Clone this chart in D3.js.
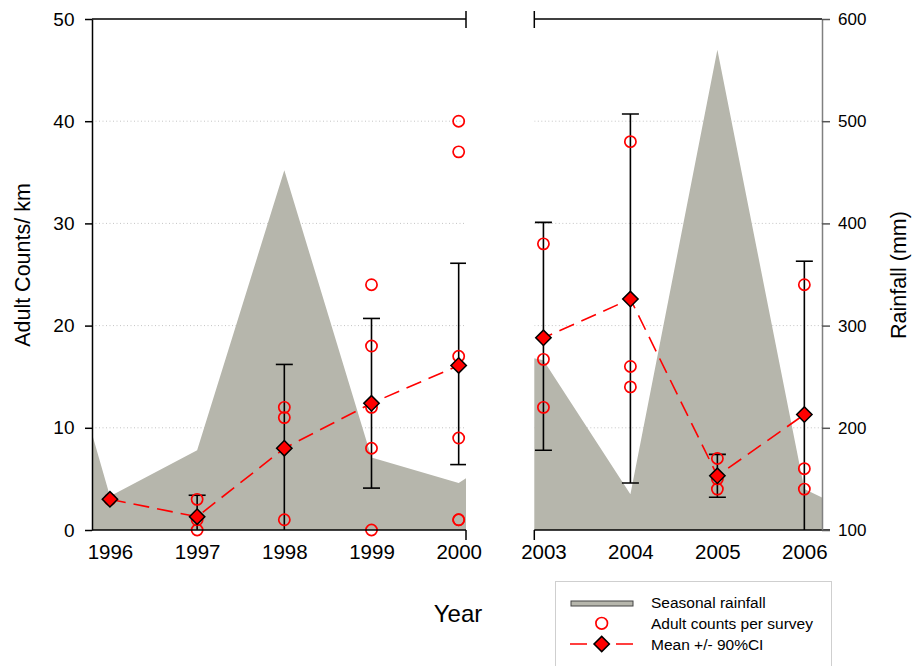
<!DOCTYPE html>
<html>
<head>
<meta charset="utf-8">
<script src="https://cdn.jsdelivr.net/npm/d3@7"></script>
<style>
  body { margin: 0; background: #fff; }
  svg { display: block; }
  text { font-family: Arial, "Liberation Sans", sans-serif; fill: #000; }
</style>
</head>
<body>
<svg id="chart" width="912" height="666"></svg>
<script>
// Survey years and mean adult counts per km with 90% confidence limits
const years      = [1996, 1997, 1998, 1999, 2000, 2003, 2004, 2005, 2006];
const meanCounts = [3.0, 1.3, 8.0, 12.4, 16.1, 18.8, 22.6, 5.3, 11.3];
const ciLow      = [null, -0.8, -0.2, 4.1, 6.4, 7.8, 4.6, 3.2, -3.7];
const ciHigh     = [null, 3.4, 16.2, 20.7, 26.1, 30.1, 40.7, 7.4, 26.3];

// Individual survey counts, one list per survey year
const surveyCounts = [
  [3],
  [3, 1, 0],
  [12, 11, 1],
  [24, 18, 12, 8, 0],
  [40, 37, 17, 9, 1, 1],
  [28, 16.7, 12],
  [38, 16, 14],
  [7, 5, 4],
  [24, 6, 4]
];

// Seasonal rainfall (mm)
const rainYears = [1995, 1996, 1997, 1998, 1999, 2000, 2001, 2002, 2003, 2004, 2005, 2006, 2007];
const rainfall  = [430, 133, 178, 452, 171, 146, 200, 285, 266, 135, 570, 140, 100];

// Axis ticks
const countTicks = [0, 10, 20, 30, 40, 50];
const rainTicks  = [100, 200, 300, 400, 500, 600];
const earlyYears = [1996, 1997, 1998, 1999, 2000];
const lateYears  = [2003, 2004, 2005, 2006];

const svg = d3.select("#chart");
const plotTop = 19, plotBottom = 530;
const yCount = d3.scaleLinear().domain([0, 50]).range([plotBottom, plotTop]);
const yRain  = d3.scaleLinear().domain([100, 600]).range([plotBottom, plotTop]);

const panels = [
  { id: "early", domain: [1995.794, 2000.084], range: [92, 466], ticks: earlyYears },
  { id: "late",  domain: [2002.895, 2006.203], range: [534.3, 822], ticks: lateYears }
];

const rainData  = rainYears.map((y, i) => ({ year: y, value: rainfall[i] }));
const meanData  = years.map((y, i) => ({ year: y, mean: meanCounts[i], lo: ciLow[i], hi: ciHigh[i] }));
const pointData = years.flatMap((y, i) => surveyCounts[i].map(v => ({ year: y, value: v })));

const defs = svg.append("defs");
const diamond = d3.symbol().type(d3.symbolSquare).size(118);

panels.forEach(p => {
  const x = d3.scaleLinear().domain(p.domain).range(p.range);
  const [x0, x1] = p.range;
  const inPanel = d => d.year >= p.domain[0] && d.year <= p.domain[1];

  defs.append("clipPath").attr("id", "clip-" + p.id)
    .append("rect").attr("x", x0).attr("y", plotTop)
    .attr("width", x1 - x0).attr("height", plotBottom - plotTop);

  const g = svg.append("g");
  const clipped = g.append("g").attr("clip-path", `url(#clip-${p.id})`);

  // dotted gridlines
  clipped.selectAll("line.grid").data([10, 20, 30, 40]).join("line")
    .attr("class", "grid")
    .attr("x1", x0).attr("x2", x1)
    .attr("y1", d => yCount(d)).attr("y2", d => yCount(d))
    .attr("stroke", "#c4c4c4").attr("stroke-width", 1)
    .attr("stroke-dasharray", "1,2.5");

  // rainfall area
  clipped.append("path").datum(rainData)
    .attr("fill", "#b6b6ac")
    .attr("d", d3.area().x(d => x(d.year)).y0(yRain(100)).y1(d => yRain(d.value)));

  // confidence interval bars
  const bars = meanData.filter(d => inPanel(d) && d.lo !== null);
  const eb = clipped.append("g").attr("stroke", "#000").attr("stroke-width", 1.6);
  eb.selectAll("line.v").data(bars).join("line").attr("class", "v")
    .attr("x1", d => x(d.year)).attr("x2", d => x(d.year))
    .attr("y1", d => yCount(d.lo)).attr("y2", d => yCount(d.hi));
  eb.selectAll("line.hi").data(bars).join("line").attr("class", "hi")
    .attr("x1", d => x(d.year) - 8.5).attr("x2", d => x(d.year) + 8.5)
    .attr("y1", d => yCount(d.hi)).attr("y2", d => yCount(d.hi));
  eb.selectAll("line.lo").data(bars).join("line").attr("class", "lo")
    .attr("x1", d => x(d.year) - 8.5).attr("x2", d => x(d.year) + 8.5)
    .attr("y1", d => yCount(d.lo)).attr("y2", d => yCount(d.lo));

  // individual survey counts
  g.selectAll("circle.pt").data(pointData.filter(inPanel)).join("circle")
    .attr("class", "pt")
    .attr("cx", d => x(d.year)).attr("cy", d => yCount(d.value)).attr("r", 5.6)
    .attr("fill", "none").attr("stroke", "#ff0000").attr("stroke-width", 1.7);

  // dashed mean line
  clipped.append("path").datum(meanData)
    .attr("fill", "none").attr("stroke", "#ff0000").attr("stroke-width", 1.6)
    .attr("stroke-dasharray", "16,8")
    .attr("d", d3.line().x(d => x(d.year)).y(d => yCount(d.mean)));

  // mean diamonds
  g.selectAll("path.mean").data(meanData.filter(inPanel)).join("path")
    .attr("class", "mean")
    .attr("transform", d => `translate(${x(d.year)},${yCount(d.mean)}) rotate(45)`)
    .attr("d", diamond)
    .attr("fill", "#ff0000").attr("stroke", "#000").attr("stroke-width", 1.5);

  // year labels
  const xa = g.append("g").attr("transform", `translate(0,${plotBottom})`)
    .call(d3.axisBottom(x).tickValues(p.ticks).tickFormat(d3.format("d")).tickSize(0).tickPadding(14.4));
  xa.select(".domain").remove();
  xa.selectAll("text").attr("font-size", 20.5).attr("font-family", null);

  // frame: top edge, bottom edge, break marks
  const frame = g.append("g").attr("stroke", "#000").attr("stroke-width", 1.5).attr("fill", "none");
  frame.append("line").attr("x1", x0).attr("x2", x1).attr("y1", plotTop).attr("y2", plotTop);
  frame.append("line").attr("x1", x0).attr("x2", p.id === "late" ? x1 + 8 : x1)
    .attr("y1", plotBottom).attr("y2", plotBottom);
  const breakX = p.id === "early" ? x1 : x0;
  frame.append("line").attr("x1", breakX).attr("x2", breakX).attr("y1", plotTop - 8).attr("y2", plotTop + 9);
  frame.append("line").attr("x1", breakX).attr("x2", breakX).attr("y1", plotBottom).attr("y2", plotBottom + 10);
});

// left count axis
const ya = svg.append("g").attr("transform", "translate(92,0)")
  .call(d3.axisLeft(yCount).tickValues(countTicks).tickSize(7).tickSizeOuter(0).tickPadding(10.5));
ya.selectAll("path,line").attr("stroke", "#000").attr("stroke-width", 1.5);
ya.selectAll("text").attr("font-size", 19).attr("font-family", null);

// right rainfall axis
const ra = svg.append("g").attr("transform", "translate(822,0)")
  .call(d3.axisRight(yRain).tickValues(rainTicks).tickSize(8).tickSizeOuter(0).tickPadding(8));
ra.select(".domain").attr("stroke", "#808080").attr("stroke-width", 1.5);
ra.selectAll(".tick line").attr("stroke", "#555").attr("stroke-width", 1.5);
ra.selectAll("text").attr("font-size", 17).attr("font-family", null);

// axis titles
svg.append("text").attr("transform", "translate(30,265) rotate(-90)")
  .attr("text-anchor", "middle").attr("font-size", 21.5).text("Adult Counts/ km");
svg.append("text").attr("transform", "translate(906,275) rotate(-90)")
  .attr("text-anchor", "middle").attr("font-size", 21.5).text("Rainfall (mm)");
svg.append("text").attr("x", 458).attr("y", 622)
  .attr("text-anchor", "middle").attr("font-size", 24).text("Year");

// legend
const lg = svg.append("g");
lg.append("rect").attr("x", 555.5).attr("y", 581.5).attr("width", 276).attr("height", 100)
  .attr("fill", "#fff").attr("stroke", "#cfcfcf").attr("stroke-width", 1);
lg.append("rect").attr("x", 571).attr("y", 601).attr("width", 62).attr("height", 5)
  .attr("fill", "#b6b6ac").attr("stroke", "#444").attr("stroke-width", 1);
lg.append("circle").attr("cx", 601.7).attr("cy", 623.3).attr("r", 5.8)
  .attr("fill", "none").attr("stroke", "#ff0000").attr("stroke-width", 1.7);
lg.append("line").attr("x1", 570).attr("x2", 633).attr("y1", 644).attr("y2", 644)
  .attr("stroke", "#ff0000").attr("stroke-width", 1.6).attr("stroke-dasharray", "17,29,17");
lg.append("path").attr("transform", "translate(601.7,644) rotate(45)")
  .attr("d", diamond).attr("fill", "#ff0000").attr("stroke", "#000").attr("stroke-width", 1.5);
const legendLabels = ["Seasonal rainfall", "Adult counts per survey", "Mean +/- 90%CI"];
lg.selectAll("text.lab").data(legendLabels).join("text").attr("class", "lab")
  .attr("x", 651).attr("y", (d, i) => 608.3 + i * 20.9)
  .attr("font-size", 15.5).text(d => d);
</script>
</body>
</html>
